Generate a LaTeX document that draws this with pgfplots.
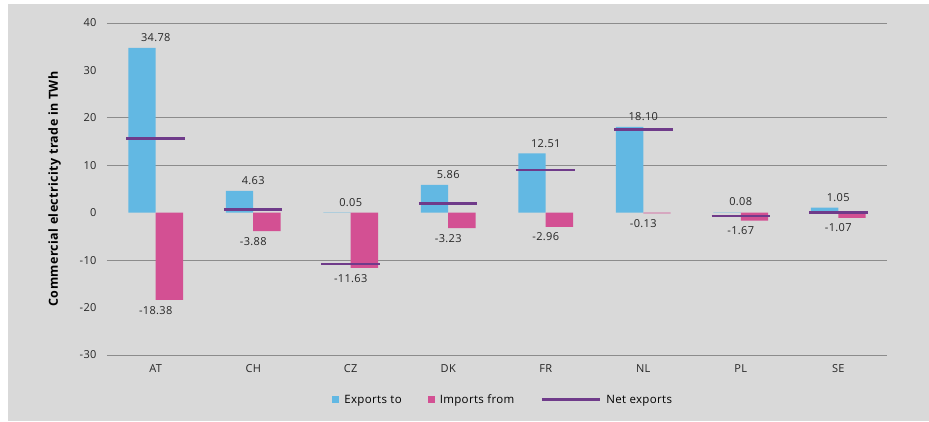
\documentclass[border=0pt]{standalone}
\usepackage{pgfplots}
\pgfplotsset{compat=1.18}
\usepackage{fontspec}
\setmainfont{Open Sans}[LetterSpace=3]
\definecolor{bg}{HTML}{D9D9D9}
\definecolor{expc}{HTML}{62B8E3}
\definecolor{impc}{HTML}{D35093}
\definecolor{netc}{HTML}{6F3B8A}
\definecolor{gridc}{HTML}{8C8C8C}
\begin{document}
\begin{tikzpicture}[x=1pt,y=1pt]
\path (-107,-66) rectangle (822,355);
\fill[bg] (-99,-66) rectangle (822,351);
\begin{axis}[
  at={(0,0)}, anchor=south west,
  scale only axis, width=780pt, height=332pt,
  xmin=-0.5, xmax=7.5, ymin=-30, ymax=40,
  axis line style={draw=none},
  xtick={0,...,7},
  xticklabels={AT,CH,CZ,DK,FR,NL,PL,SE},
  ytick={-30,-20,...,40},
  tick style={draw=none},
  extra y ticks={-30,-10,10,20,40},
  extra y tick labels={},
  extra y tick style={grid=major, major grid style={gridc, line width=0.9pt}},
  /pgf/number format/assume math mode=true,
  ticklabel style={font=\fontsize{11}{13}\selectfont, text=black!85},
  yticklabel style={xshift=-7pt},
  xticklabel style={yshift=-6pt},
  ylabel={\bfseries Commercial electricity trade in TWh},
  ylabel style={font=\fontsize{12.5}{14}\selectfont, yshift=12pt},
  clip=false,
  legend style={draw=none, fill=none, at={(rel axis cs:0.508,-0.135)}, anchor=center,
    font=\fontsize{11.5}{13}\selectfont, legend columns=3,
    /tikz/every even column/.append style={column sep=24pt},
    /tikz/every odd column/.append style={column sep=3pt}},
  nodes near coords={\pgfmathprintnumber[fixed,fixed zerofill,precision=2,assume math mode=true]{\pgfplotspointmeta}},
  every node near coord/.append style={font=\fontsize{11}{13}\selectfont, text=black!85, inner ysep=6pt},
]
\addplot[ybar, bar width=0.28, bar shift=-0.14, fill=expc, draw=none,
  legend image code/.code={\fill[expc] (0pt,-3.5pt) rectangle (7pt,3.5pt);}]
  coordinates {(0,34.78) (1,4.63) (2,0.05) (3,5.86) (4,12.51) (5,18.10) (6,0.08) (7,1.05)};
\addlegendentry{Exports to}
\addplot[ybar, bar width=0.28, bar shift=0.14, fill=impc, draw=none,
  legend image code/.code={\fill[impc] (0pt,-3.5pt) rectangle (7pt,3.5pt);}]
  coordinates {(0,-18.38) (1,-3.88) (2,-11.63) (3,-3.23) (4,-2.96) (5,-0.13) (6,-1.67) (7,-1.07)};
\addlegendentry{Imports from}
\addplot[netc, line width=2.8pt, nodes near coords={}, unbounded coords=jump,
  legend image code/.code={\draw[netc, line width=3pt] (-4pt,0pt) -- (54pt,0pt);}]
  coordinates {(-0.3,15.6) (0.3,15.6) (0.5,nan)
               (0.7,0.7) (1.3,0.7) (1.5,nan)
               (1.7,-10.8) (2.3,-10.8) (2.5,nan)
               (2.7,1.9) (3.3,1.9) (3.5,nan)
               (3.7,9.0) (4.3,9.0) (4.5,nan)
               (4.7,17.5) (5.3,17.5) (5.5,nan)
               (5.7,-0.7) (6.3,-0.7) (6.5,nan)
               (6.7,0.0) (7.3,0.0)};
\addlegendentry{Net exports}
\end{axis}
\end{tikzpicture}
\end{document}
